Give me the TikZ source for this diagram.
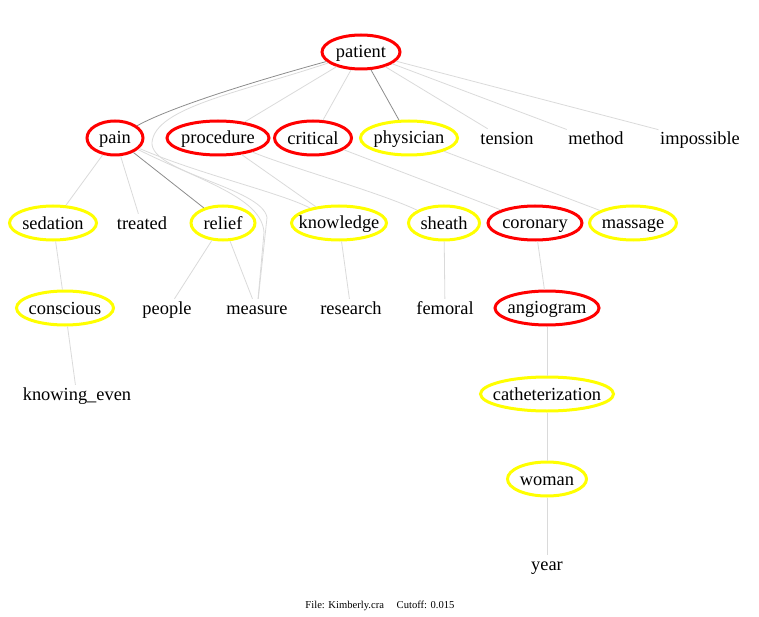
\documentclass[tikz,border=0pt]{standalone}
\usepackage{fontspec}
\setmainfont{Liberation Serif}
\usetikzlibrary{shapes.geometric}
\definecolor{lightedge}{RGB}{218,218,218}
\definecolor{darkedge}{RGB}{140,140,140}
\definecolor{ellred}{RGB}{255,0,0}
\definecolor{ellyellow}{RGB}{255,255,0}
\tikzset{
  word/.style={inner sep=1.5pt, font=\fontsize{18.4}{20}\selectfont},
  redell/.style={word, ellipse, draw=ellred, line width=3pt, inner sep=0pt, minimum height=34pt, yshift=2.5pt},
  yelell/.style={word, ellipse, draw=ellyellow, line width=3pt, inner sep=0pt, minimum height=34pt, yshift=2.5pt},
  light/.style={draw=lightedge, line width=0.8pt},
  dark/.style={draw=darkedge, line width=0.8pt},
}
\newcommand{\zw}[1]{\makebox[0pt]{\rule[-1.5pt]{0pt}{16.5pt}#1}}
\begin{document}
\begin{tikzpicture}[x=1pt,y=-1pt]
\useasboundingbox (0,-2.5) rectangle (759,614.5);
% nodes
\node[redell, minimum width=78pt] (patient) at (361,52) {\zw{patient}};
\node[redell, minimum width=56pt] (pain) at (115,138) {\zw{pain}};
\node[redell, minimum width=102pt] (procedure) at (218,138) {\zw{procedure}};
\node[redell, minimum width=77pt] (critical) at (313,138) {\zw{critical}};
\node[yelell, minimum width=97pt] (physician) at (409,138) {\zw{physician}};
\node[word] (tension) at (507,138) {\strut tension};
\node[word] (method) at (596,138) {\strut method};
\node[word] (impossible) at (700,138) {\strut impossible};
\node[yelell, minimum width=87pt] (sedation) at (53,223) {\zw{sedation}};
\node[word] (treated) at (142,223) {\strut treated};
\node[yelell, minimum width=64pt] (relief) at (223,223) {\zw{relief}};
\node[yelell, minimum width=95pt] (knowledge) at (339,223) {\zw{knowledge}};
\node[yelell, minimum width=71pt] (sheath) at (444,223) {\zw{sheath}};
\node[redell, minimum width=94pt] (coronary) at (535,223) {\zw{coronary}};
\node[yelell, minimum width=87pt] (massage) at (633,223) {\zw{massage}};
\node[yelell, minimum width=97pt] (conscious) at (65,308) {\zw{conscious}};
\node[word] (people) at (167,308) {\strut people};
\node[word] (measure) at (257,308) {\strut measure};
\node[word] (research) at (351,308) {\strut research};
\node[word] (femoral) at (445,308) {\strut femoral};
\node[redell, minimum width=104pt] (angiogram) at (547,308) {\zw{angiogram}};
\node[word] (knowing) at (77,394) {\strut knowing\_even};
\node[yelell, minimum width=133pt] (cath) at (547,394) {\zw{catheterization}};
\node[yelell, minimum width=79pt] (woman) at (547,479) {\zw{woman}};
\node[word] (year) at (547,564) {\strut year};
\node[inner sep=0pt, font=\fontsize{10.6}{12}\selectfont] (caption) at (380,603) {File: Kimberly.cra\hspace{1.2em}Cutoff: 0.015};
% edges
\path[light] (patient) -- (procedure);
\path[light] (patient) -- (critical);
\path[dark] (patient) -- (physician);
\path[light] (patient) -- (tension);
\path[light] (patient) -- (method);
\path[light] (patient) -- (impossible);
\path[dark] (patient) .. controls (250,80) and (170,105) .. (pain);
\path[light] (patient) .. controls (240,90) and (155,105) .. (152,140)
   .. controls (150,170) and (262,185) .. (267,215) -- (measure);
\path[light] (pain) .. controls (200,178) and (262,195) .. (264,230) -- (measure);
\path[light] (pain) .. controls (200,172) and (280,190) .. (knowledge);
\path[light] (pain) -- (sedation);
\path[light] (pain) -- (treated);
\path[dark] (pain) -- (relief);
\path[light] (procedure) -- (knowledge);
\path[light] (procedure) .. controls (290,165) and (380,190) .. (sheath);
\path[light] (critical) -- (coronary);
\path[light] (physician) -- (massage);
\path[light] (sedation) -- (conscious);
\path[light] (conscious) -- (knowing);
\path[light] (relief) -- (people);
\path[light] (relief) -- (measure);
\path[light] (knowledge) -- (research);
\path[light] (sheath) -- (femoral);
\path[light] (coronary) -- (angiogram);
\path[light] (angiogram) -- (cath);
\path[light] (cath) -- (woman);
\path[light] (woman) -- (year);
\end{tikzpicture}
\end{document}
